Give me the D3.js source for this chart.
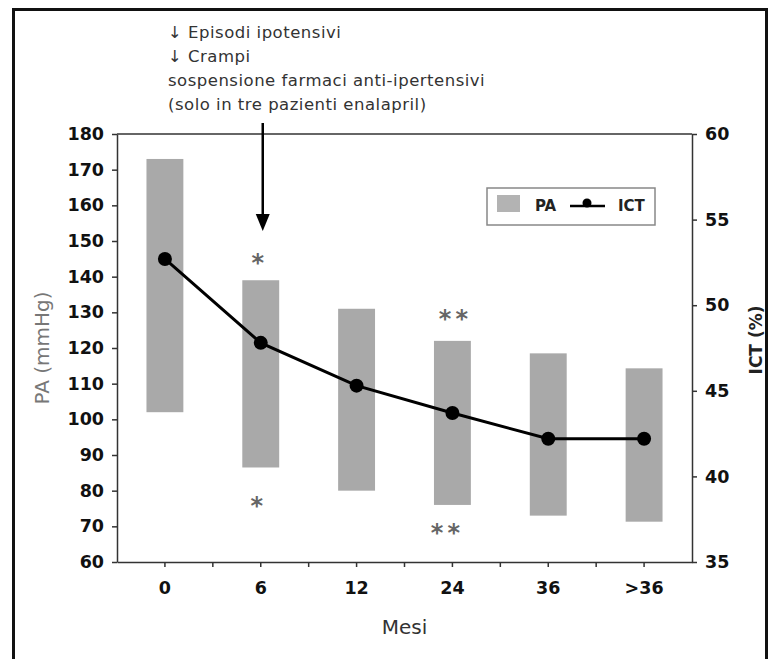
<!DOCTYPE html>
<html>
<head>
<meta charset="utf-8">
<script src="https://cdn.jsdelivr.net/npm/d3@7"></script>
<style>
  html, body { margin: 0; padding: 0; background: #fff; }
  svg { display: block; }
  text { font-family: "DejaVu Sans", Verdana, sans-serif; }
</style>
</head>
<body>
<svg id="chart" width="770" height="659"></svg>
<script>
// Months of follow-up
const months = ["0", "6", "12", "24", "36", ">36"];
// Blood pressure range (mmHg): upper and lower end of each bar
const paHigh = [173, 139, 131, 122, 118.5, 114.3];
const paLow = [102, 86.5, 80, 76, 73, 71.3];
// Cardiothoracic index (%)
const ict = [52.7, 47.8, 45.3, 43.7, 42.2, 42.2];
// Axis ticks
const paTicks = [60, 70, 80, 90, 100, 110, 120, 130, 140, 150, 160, 170, 180];
const ictTicks = [35, 40, 45, 50, 55, 60];
// Significance marks: month, level on the PA scale (mmHg), symbol
const markMonths = ["6", "6", "24", "24"];
const markLevels = [145.5, 77.4, 129.8, 69.8];
const markSymbols = ["*", "*", "**", "**"];
// Annotation lines
const notes = ["\u2193 Episodi ipotensivi", "\u2193 Crampi", "sospensione farmaci anti-ipertensivi", "(solo in tre pazienti enalapril)"];

const svg = d3.select("#chart");
const L = 117, R = 692, T = 134, B = 562;
const FONT = "'DejaVu Sans', Verdana, sans-serif";

const x = d3.scaleBand().domain(months).range([L, R]).paddingInner(0.615).paddingOuter(0.3075);
const yPA = d3.scaleLinear().domain([60, 180]).range([B, T]);
const yICT = d3.scaleLinear().domain([35, 60]).range([B, T]);
const cx = m => x(m) + x.bandwidth() / 2;

// outer frame
svg.append("path")
  .attr("d", "M13.5,670 V9.5 H766.5 V670")
  .attr("fill", "none").attr("stroke", "#111").attr("stroke-width", 3);

// bars
svg.append("g").selectAll("rect").data(months).join("rect")
  .attr("x", d => x(d))
  .attr("width", x.bandwidth())
  .attr("y", (d, i) => yPA(paHigh[i]))
  .attr("height", (d, i) => yPA(paLow[i]) - yPA(paHigh[i]))
  .attr("fill", "#a9a9a9");

// plot box top line
svg.append("line").attr("x1", L).attr("x2", R).attr("y1", T).attr("y2", T)
  .attr("stroke", "#333").attr("stroke-width", 1.5);

// left axis
const gL = svg.append("g").attr("transform", `translate(${L},0)`)
  .call(d3.axisLeft(yPA).tickValues(paTicks).tickSize(5).tickPadding(8).tickSizeOuter(0));
// right axis
const gR = svg.append("g").attr("transform", `translate(${R},0)`)
  .call(d3.axisRight(yICT).tickValues(ictTicks).tickSize(5).tickPadding(8).tickSizeOuter(0));
// bottom axis
const gB = svg.append("g").attr("transform", `translate(0,${B})`)
  .call(d3.axisBottom(x).tickSize(5).tickPadding(15).tickSizeOuter(0));
// minor ticks between months
svg.append("g").selectAll("line").data(months.slice(1)).join("line")
  .attr("x1", d => x(d) - x.step() * x.paddingInner() / 2)
  .attr("x2", d => x(d) - x.step() * x.paddingInner() / 2)
  .attr("y1", B).attr("y2", B + 5)
  .attr("stroke", "#333").attr("stroke-width", 1.5);

[gL, gR, gB].forEach(g => {
  g.select(".domain").attr("stroke", "#333").attr("stroke-width", 1.5);
  g.selectAll(".tick line").attr("stroke", "#333").attr("stroke-width", 1.5);
  g.selectAll(".tick text").attr("fill", "#111").attr("font-weight", "bold")
    .attr("font-size", 17.5).attr("font-family", FONT);
});

// axis titles
svg.append("text").attr("transform", `translate(49,${(T + B) / 2}) rotate(-90)`)
  .attr("text-anchor", "middle").attr("font-size", 20).attr("fill", "#777")
  .text("PA (mmHg)");
svg.append("text").attr("transform", `translate(762,${(T + B) / 2 - 8}) rotate(-90)`)
  .attr("text-anchor", "middle").attr("font-size", 17).attr("font-weight", "bold").attr("fill", "#222")
  .text("ICT (%)");
svg.append("text").attr("x", (L + R) / 2).attr("y", 634)
  .attr("text-anchor", "middle").attr("font-size", 20).attr("fill", "#333")
  .text("Mesi");

// ICT line and points
const line = d3.line().x(d => cx(d[0])).y(d => yICT(d[1]));
svg.append("path").datum(months.map((m, i) => [m, ict[i]]))
  .attr("d", line).attr("fill", "none").attr("stroke", "#000").attr("stroke-width", 3);
svg.append("g").selectAll("circle").data(months).join("circle")
  .attr("cx", d => cx(d)).attr("cy", (d, i) => yICT(ict[i])).attr("r", 7).attr("fill", "#000");

// significance marks (asterisk glyph sits high, so shift baseline down)
const markDx = [-3, -4, 3, -5];
svg.append("g").selectAll("text").data(markSymbols).join("text")
  .attr("x", (d, i) => cx(markMonths[i]) + markDx[i])
  .attr("y", (d, i) => yPA(markLevels[i]) + 14)
  .attr("text-anchor", "middle").attr("font-size", 24).attr("font-weight", "bold").attr("fill", "#666")
  .attr("letter-spacing", d => d.length > 1 ? 4 : 0)
  .text(d => d);

// annotation text and arrow
svg.append("g").selectAll("text").data(notes).join("text")
  .attr("x", 168).attr("y", (d, i) => 38 + i * 24)
  .attr("font-size", 16.5).attr("letter-spacing", 0.5).attr("fill", "#333")
  .text(d => d);
const ax = cx("6") + 2;
svg.append("line").attr("x1", ax).attr("x2", ax).attr("y1", 123).attr("y2", 218)
  .attr("stroke", "#000").attr("stroke-width", 2.5);
svg.append("path").attr("d", `M${ax - 7},214 L${ax + 7},214 L${ax},231 Z`).attr("fill", "#000");

// legend
const lg = svg.append("g");
lg.append("rect").attr("x", 487).attr("y", 188).attr("width", 168).attr("height", 37)
  .attr("fill", "#fff").attr("stroke", "#888").attr("stroke-width", 1.5);
lg.append("rect").attr("x", 497).attr("y", 195).attr("width", 23).attr("height", 17).attr("fill", "#b3b3b3");
lg.append("text").attr("x", 535).attr("y", 211).attr("font-size", 15).attr("font-weight", "bold").attr("fill", "#222").text("PA");
lg.append("line").attr("x1", 570).attr("x2", 605).attr("y1", 206).attr("y2", 206).attr("stroke", "#000").attr("stroke-width", 2.5);
lg.append("circle").attr("cx", 587).attr("cy", 203).attr("r", 4.5).attr("fill", "#000");
lg.append("text").attr("x", 618).attr("y", 211).attr("font-size", 15).attr("font-weight", "bold").attr("fill", "#222").text("ICT");
</script>
</body>
</html>
